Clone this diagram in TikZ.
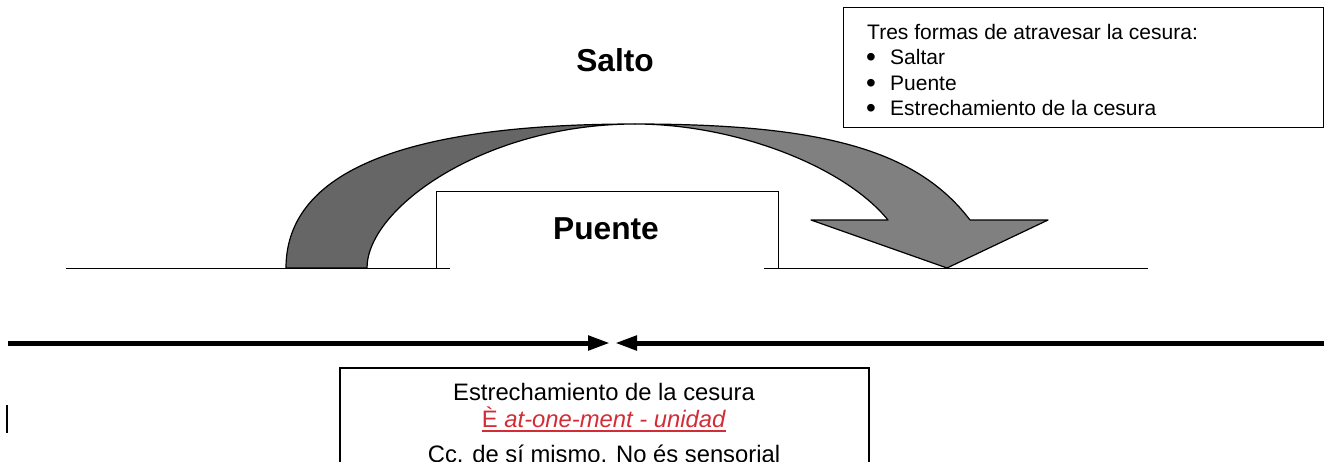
\documentclass[tikz,border=0pt]{standalone}
\usepackage{fontspec}
\setmainfont{Liberation Sans}
\usetikzlibrary{arrows.meta}
\definecolor{darkband}{RGB}{102,102,102}
\definecolor{lightband}{RGB}{128,128,128}
\definecolor{redtext}{RGB}{210,45,55}
\begin{document}
\begin{tikzpicture}[x=1pt,y=-1pt,
  band/.style={draw=black, line width=1.2, line join=round},
  thin/.style={draw=black, line width=1},
  boxline/.style={draw=black, line width=1.4, inner sep=0, anchor=north west},
  smalltxt/.style={font=\fontsize{21}{25}\selectfont, inner sep=0, anchor=base west},
  bullettxt/.style={font=\fontsize{28}{25}\selectfont, inner sep=0, anchor=base west, text height=8pt, text depth=0pt},
  boldtxt/.style={font=\fontsize{31.7}{36}\selectfont\bfseries, inner sep=0, anchor=base},
  boxtxt/.style={font=\fontsize{23.8}{27}\selectfont, inner sep=0, anchor=base},
  thickarrow/.style={line width=5, -{Triangle[length=22pt,width=14pt]}}]
\useasboundingbox (0,0) rectangle (1324,461);
\clip (0,0) rectangle (1324,461);

% curved arrow: back (dark) part
\path[band, fill=darkband] (286,268) .. controls (286,158) and (440,124) .. (635,124)
  .. controls (485,124) and (367,208) .. (367,268) -- cycle;
% front (light) part with head
\path[band, fill=lightband] (635,124) .. controls (820,124) and (916,149) .. (970,220)
  -- (1048,220) -- (947,268) -- (811,220) -- (888,220)
  .. controls (844,166) and (735,124) .. (635,124) -- cycle;

% ground lines and bridge
\coordinate (gl1) at (66,268);
\coordinate (gl2) at (450,268);
\coordinate (gr1) at (764,268);
\coordinate (gr2) at (1148,268);
\coordinate (b1) at (436,268);
\coordinate (b2) at (436,191);
\coordinate (b3) at (778,191);
\coordinate (b4) at (778,268);
\draw[thin] (gl1) -- (gl2);
\draw[thin] (gr1) -- (gr2);
\draw[thin] (b1) -- (b2) -- (b3) -- (b4);

% labels
\node[boldtxt] (salto) at (615,71) {Salto};
\node[boldtxt] (puente) at (606,239) {Puente};

% top-right box
\node[boxline, minimum width=480, minimum height=120] (tbox) at (843,7) {};
\node[smalltxt] (t0) at (867,39) {Tres formas de atravesar la cesura:};
\node[bullettxt] (bu1) at (866,66) {•};
\node[smalltxt] (t1) at (890,64) {Saltar};
\node[bullettxt] (bu2) at (866,92) {•};
\node[smalltxt] (t2) at (890,90) {Puente};
\node[bullettxt] (bu3) at (866,117) {•};
\node[smalltxt] (t3) at (890,115) {Estrechamiento de la cesura};

% thick converging line
\coordinate (la) at (8,343);
\coordinate (lb) at (610,343);
\coordinate (ra) at (1324,343);
\coordinate (rb) at (615,343);
\draw[thickarrow] (la) -- (lb);
\draw[thickarrow] (ra) -- (rb);

% bottom box
\node[boxline, line width=1.8, minimum width=529, minimum height=130] (bbox) at (339,367) {};
\node[boxtxt] (e1) at (604,400) {Estrechamiento de la cesura};
\node[boxtxt, text=redtext] (e2) at (604,427) {È \textit{at-one-ment - unidad}};
\draw[redtext, line width=1.8] ([yshift=-4pt]e2.base west) -- ([yshift=-4pt]e2.base east);
\node[boxtxt] (e3) at (604,462) {Cc. de sí mismo. No és sensorial};

% cursor mark
\coordinate (c1) at (7,405);
\coordinate (c2) at (7,433);
\draw[line width=1.5] (c1) -- (c2);
\end{tikzpicture}
\end{document}
